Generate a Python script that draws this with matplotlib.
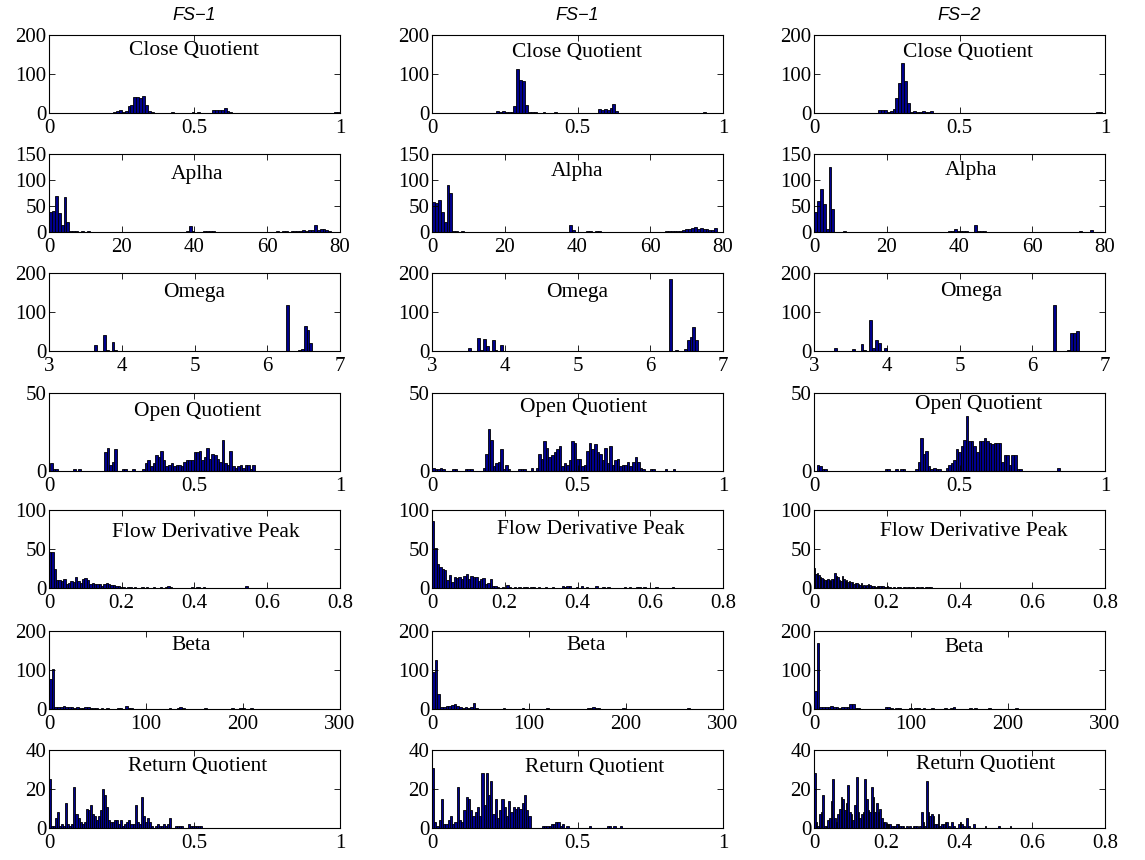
import numpy as np
import matplotlib.pyplot as plt
from matplotlib.ticker import FormatStrFormatter

plt.rcParams['font.family'] = ['Liberation Serif', 'DejaVu Serif']

col_titles = ['FS\u22121', 'FS\u22121', 'FS\u22122']

# histogram counts, one list per column; bins start at *_lo with width *_w
cq_lo = [0.18, 0.10, 0.15]
cq_w = [0.01, 0.01, 0.01]
cq1 = [0,1,1,1,3,5,8,2,4,17,20,42,42,38,43,20,5,2,1,1,1,1,0,1,3,1,0,1,0,1,0,2,1,2,1,1,0,1,7,8,
       7,8,14,5,2,1,1,0,1,0,0,1,0,0,1,0,0,0,1,0,0,1,0,0,0,1,0,0,0,1,0,0,1,0,0,0,1,0,0,0,3,3]
cq2 = [0,1,1,0,0,1,0,0,0,1,0,0,4,3,4,2,2,3,19,113,85,83,20,3,2,2,1,0,2,1,0,0,2,1,
       0,0,1,0,0,0,0,1,0,0,1,0,1,10,7,10,7,12,23,5,1,1,
       0,0,1,0,0,0,1,0,0,0,0,1,0,0,1,0,0,0,1,0,0,0,0,1,0,0,0,3,0,1,0,0,1,0]
cq3 = [1,0,1,1,0,1,0,7,7,7,3,5,10,38,77,129,83,26,2,4,3,3,4,3,2,5,1,1,0,1,
       0,1,0,0,0,0,1,0,0,0,0,0,0,0,0,0,0,0,0,1,0,0,0,0,0,0,0,0,0,0,
       0,0,1,0,0,0,0,0,0,0,0,1,0,0,0,0,0,0,1,0,0,1,3,3]

al_lo = [0, 0, 0]
al_w = [0.8, 0.8, 0.8]
al1 = [38,40,69,37,14,67,19,1,1,1,0,1,
       0,1,0,0,0,0,0,0,0,0,0,0,0,0,0,0,0,0,0,0,0,0,0,0,0,0,0,0,0,0,0,0,0,0,0,
       2,12,2,0,0,0,1,1,1,1,
       0,0,0,0,0,0,0,0,0,0,0,0,0,0,0,0,0,0,0,0,0,
       1,0,1,1,0,1,1,1,2,3,2,3,3,14,4,5,5,4,2]
al2 = [57,55,62,38,19,91,75,2,1,0,2,
       0,0,0,0,0,0,0,0,0,0,0,0,0,0,0,0,0,0,0,0,0,0,0,0,0,0,0,0,0,0,0,0,0,0,0,0,
       13,3,0,0,0,0,1,1,0,1,1,
       0,0,0,0,0,0,0,0,0,0,0,0,0,0,0,0,0,0,0,0,0,0,
       1,2,1,2,2,2,3,5,6,8,10,6,7,5,5,4,4,7]
al3 = [39,60,83,54,5,125,45,0,0,0,1,
       0,0,0,0,0,0,0,0,0,0,0,0,0,0,0,0,0,0,0,0,0,0,0,0,0,0,0,0,0,0,0,0,0,0,0,
       2,2,5,1,1,1,1,0,0,13,1,1,1,
       0,0,0,0,0,0,0,0,0,0,0,0,0,0,0,0,0,0,0,0,0,0,0,0,0,0,0,0,0,0,0,0,
       2,0,0,0,3,0]

om_lo = [3.3, 3.1, 3.2]
om_w = [0.04, 0.04, 0.04]
om1 = [1,0,1,0,1,1,0,1,15,1,0,42,2,0,23,3,
       0,0,0,0,0,0,0,0,0,0,0,0,0,0,0,0,0,0,0,0,0,0,0,0,0,0,0,0,0,0,0,0,0,
       0,0,0,0,0,0,0,0,0,0,0,0,0,0,0,0,0,0,0,0,0,0,0,0,0,
       119,0,0,1,3,5,65,54,20]
om2 = [0,1,0,1,1,0,1,0,1,0,8,0,0,34,3,31,12,0,27,3,0,15,1,
       0,0,0,0,0,0,0,0,0,0,0,0,0,0,0,0,0,0,0,0,0,0,0,0,0,0,0,0,
       0,0,0,0,0,0,0,0,0,0,0,0,0,0,0,0,0,0,0,0,0,0,0,0,0,0,0,0,
       185,0,3,0,0,5,27,35,62,28]
om3 = [0,0,8,1,0,1,0,1,5,0,0,19,3,0,80,8,28,20,0,8,1,1,
       0,0,0,0,0,0,0,0,0,0,0,0,0,0,0,0,0,0,0,0,0,0,0,0,0,0,0,
       0,0,0,0,0,0,0,0,0,0,0,0,0,0,0,0,0,0,0,0,0,0,0,0,0,0,0,0,
       118,0,1,0,0,2,45,47,51]

oq_lo = [0.004, 0, 0]
oq_w = [0.0088, 0.0087, 0.0087]
oq1 = [5,1,1,0,0,0,0,0,0,1,0,1,0,0,0,0,0,0,0,0,0,12,15,4,6,14,0,0,1,1,0,0,1,0,0,0,
       1,5,7,3,5,10,9,13,7,3,4,5,3,4,4,3,6,7,7,7,12,12,13,7,9,15,8,11,10,8,6,20,5,4,
       13,3,2,3,4,2,4,4,1,4]
oq2 = [2,1,1,2,1,0,0,0,1,1,0,0,0,1,1,1,0,0,0,0,2,11,27,20,3,5,6,14,1,4,
       1,0,0,0,1,1,1,0,0,2,0,2,11,8,19,15,9,10,12,14,16,3,5,4,7,19,18,8,8,3,
       4,13,18,14,17,12,11,7,15,5,16,4,7,8,3,4,4,6,3,6,9,6,2,1,0,0,1,1,0,0,
       0,0,1,0,0,1]
oq3 = [0,4,3,1,1,0,0,0,0,0,0,0,0,0,0,0,0,0,0,0,0,0,0,0,0,0,0,0,1,1,0,0,1,0,1,1,0,0,0,0,
       1,6,21,11,13,3,1,2,1,1,0,0,2,4,5,7,14,12,16,20,35,19,19,16,12,19,19,21,19,18,
       17,18,18,18,6,10,10,4,10,10,1,1,0,0,0,0,0,0,0,0,0,0,0,0,0,0,2]

fd_lo = [0, 0, 0]
fd_w = [0.0065, 0.0066, 0.004]
fd1 = [46,46,24,10,10,9,12,5,7,9,8,14,9,7,12,13,10,5,6,5,5,5,3,5,7,5,4,4,2,2,1,
       1,0,1,1,0,1,0,0,1,0,1,0,0,1,0,0,1,0,1,2,1,0,0,0,0,0,0,0,0,
       1,0,1,1,0,1,0,0,0,0,0,0,0,0,0,0,0,0,0,0,0,0,0,2,0]
fd2 = [86,51,31,27,25,23,10,17,8,14,13,14,12,15,18,12,15,14,14,9,12,13,5,6,11,3,2,1,
       0,1,0,4,1,0,1,0,1,0,1,1,0,1,1,0,1,0,0,1,0,0,1,0,0,0,2,1,3,2,
       0,0,1,0,2,0,1,0,0,0,2,0,0,1,0,1,0,0,0,0,0,0,1,0,1,0,0,1,1,0,1,
       0,0,0,0,1,0,0,0,0,0,0,1]
fd3 = [26,18,19,17,14,13,12,10,10,11,10,9,11,12,19,15,14,10,9,15,11,9,10,8,9,8,8,5,6,7,
       5,4,6,3,4,3,4,5,4,2,2,3,1,2,3,3,2,2,1,1,2,1,1,0,1,1,0,1,1,1,
       0,1,1,0,1,1,0,1,1,0,1,1,0,1,1,0,1,1,1,1,1]

be_lo = [0, 0, 0]
be_w = [2.8, 2.8, 2.8]
be1 = [77,102,5,5,6,7,5,6,4,3,4,3,3,4,4,3,2,2,1,2,1,2,1,1,1,2,2,1,7,3,2,
       1,0,1,1,0,1,0,1,1,0,1,0,1,3,1,1,2,4,3,1,1,0,1,0,1,0,2,1,
       1,0,1,0,0,1,0,1,2,1,0,3,2,1,1,2,1,0,1,0,1,0,0,1,0,0,0,1,0,0,1,0,0,1,0,0,0,0,0,1]
be2 = [94,125,39,6,5,7,7,10,12,8,5,3,4,3,4,16,2,0,0,0,1,1,0,0,0,1,2,0,1,0,
       1,0,0,2,0,1,0,0,1,0,1,0,3,0,0,1,0,1,0,0,1,0,1,0,0,1,0,3,3,4,
       3,2,0,1,0,1,0,0,1,0,2,0,1,0,1,0,1,0,1,0,1,0,1,0,0,1,0,1,0,0,
       0,0,0,0,3]
be3 = [47,170,6,5,4,6,7,6,5,3,6,4,5,12,14,3,2,0,1,0,0,0,1,0,0,1,4,5,3,1,
       3,2,1,0,1,2,1,2,2,1,2,1,1,2,1,0,1,1,2,1,3,4,1,1,1,0,1,2,1,2,
       1,1,0,1,2,0,1,1,0,1,1,0,0,1,2,1,0,0,1,0,0,1,0,0,0,1,0,0,0,0,
       0,1,0,0,0,0,0,1]

rq_lo = [0, 0, 0]
rq_w = [0.007, 0.0077, 0.0046]
rq1 = [25,1,1,5,8,1,2,1,13,2,1,2,21,7,5,3,2,3,10,9,12,7,6,4,6,9,20,17,11,4,
       3,3,4,4,2,4,1,2,3,4,2,2,12,3,2,16,6,3,5,3,1,0,1,2,1,1,2,1,2,5,
       0,0,1,1,1,1,0,0,2,1,1,1,1,1,1]
rq2 = [31,3,1,4,15,2,2,4,6,2,3,21,4,3,9,16,15,9,6,8,11,6,28,12,28,17,24,7,15,5,
       9,15,11,6,14,8,11,10,11,10,13,17,9,6,0,0,0,0,0,1,1,1,1,2,2,3,3,1,2,0,
       1,0,0,0,0,0,0,0,0,0,1,0,0,0,0,0,0,0,1,1,0,1,0,0,1]
rq3 = [28,3,1,7,8,17,1,1,4,5,14,25,5,3,7,10,16,15,9,13,22,8,7,4,12,26,8,5,7,8,
       25,15,9,8,21,16,8,13,8,10,5,3,3,2,2,2,1,1,1,2,2,1,1,1,0,1,0,1,0,1,
       1,1,0,1,8,3,1,24,8,6,7,6,2,2,7,1,2,2,3,3,1,0,3,1,0,0,2,3,2,1,
       0,5,1,0,0,2,0,0,0,0,0,0,1,0,0,0,0,0,0,0,1,0,0,0,0,0,0,1]

names = [['Close Quotient'] * 3,
         ['Aplha', 'Alpha', 'Alpha'],
         ['Omega'] * 3,
         ['Open Quotient'] * 3,
         ['Flow Derivative Peak'] * 3,
         ['Beta'] * 3,
         ['Return Quotient'] * 3]
counts = [[cq1, cq2, cq3], [al1, al2, al3], [om1, om2, om3], [oq1, oq2, oq3],
          [fd1, fd2, fd3], [be1, be2, be3], [rq1, rq2, rq3]]
los = [cq_lo, al_lo, om_lo, oq_lo, fd_lo, be_lo, rq_lo]
widths = [cq_w, al_w, om_w, oq_w, fd_w, be_w, rq_w]

xlims = [(0, 1), (0, 80), (3, 7), (0, 1), (0, 0.8), (0, 300), (0, 1)]
ylims = [(0, 200), (0, 150), (0, 200), (0, 50), (0, 100), (0, 200), (0, 40)]
xticks = [[0, 0.5, 1], [0, 20, 40, 60, 80], [3, 4, 5, 6, 7], [0, 0.5, 1],
          [0, 0.2, 0.4, 0.6, 0.8], [0, 100, 200, 300], [0, 0.5, 1]]
yticks = [[0, 100, 200], [0, 50, 100, 150], [0, 100, 200], [0, 50],
          [0, 50, 100], [0, 100, 200], [0, 20, 40]]

# label positions inside each panel (axes fraction)
tx = [[0.50, 0.50, 0.53], [0.51, 0.50, 0.54], [0.50, 0.50, 0.54], [0.51, 0.52, 0.565],
      [0.54, 0.545, 0.55], [0.49, 0.53, 0.515], [0.51, 0.56, 0.59]]
ty = [[0.80, 0.78, 0.77], [0.74, 0.77, 0.79], [0.75, 0.75, 0.76], [0.76, 0.82, 0.85],
      [0.71, 0.75, 0.73], [0.82, 0.82, 0.79], [0.79, 0.78, 0.82]]

W, H = 1145, 860
lefts = [49, 432, 814]
tops = [35, 154, 273, 393, 510, 631, 750]
aw, ah = 291, 78
navy = '#00008c'

fig = plt.figure(figsize=(W / 100, H / 100), dpi=100)

for r in range(7):
    for c in range(3):
        ax = fig.add_axes([lefts[c] / W, 1 - (tops[r] + ah) / H, aw / W, ah / H])
        n = np.array(counts[r][c], dtype=float)
        w = widths[r][c]
        edges = los[r][c] + w * np.arange(len(n))
        ax.bar(edges, n, width=w, align='edge', color=navy,
               edgecolor='black', linewidth=0.6)
        ax.set_xlim(*xlims[r])
        ax.set_ylim(*ylims[r])
        xt = xticks[r]
        if r == 6 and c == 2:
            xt = [0, 0.2, 0.4, 0.6, 0.8]
            ax.set_xlim(0, 0.8)
        ax.set_xticks(xt)
        ax.set_yticks(yticks[r])
        ax.xaxis.set_major_formatter(FormatStrFormatter('%g'))
        ax.yaxis.set_major_formatter(FormatStrFormatter('%g'))
        ax.tick_params(direction='in', top=True, right=True, length=4,
                       width=0.6, labelsize=15)
        ax.tick_params(axis='x', pad=4.5)
        ax.tick_params(axis='y', pad=2)
        for s in ax.spines.values():
            s.set_linewidth(0.8)
        ax.text(tx[r][c], ty[r][c], names[r][c], transform=ax.transAxes,
                ha='center', va='center', fontsize=15.5)

for c in range(3):
    fig.text((lefts[c] + aw / 2) / W, 1 - 15 / H, col_titles[c], ha='center',
             va='center', fontsize=13, style='italic',
             family=['Liberation Sans', 'DejaVu Sans'])

fig.savefig('out.png', dpi=100)
